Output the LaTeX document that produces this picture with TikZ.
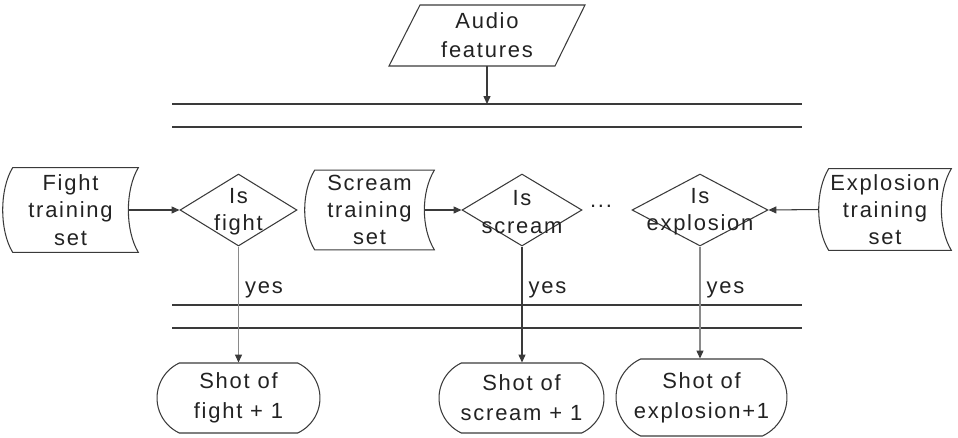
\documentclass[tikz,border=0pt]{standalone}
\usepackage{fontspec}
\setmainfont{Liberation Sans}[LetterSpace=8.0]
\usetikzlibrary{shapes.geometric,shapes.misc,arrows.meta}
\definecolor{lncol}{HTML}{3A3A3A}
\definecolor{lncolb}{HTML}{8A8A8A}
\definecolor{txtcol}{HTML}{222222}
\tikzset{
  x=0.02cm, y=-0.02cm,
  ln/.style={draw=lncol, line width=0.6pt},
  lnb/.style={draw=lncolb, line width=0.6pt},
  arr/.style={ln, -{Triangle[length=4.5pt,width=4pt]}},
  arrb/.style={lnb, -{Triangle[length=4.5pt,width=4pt,color=lncol]}},
  txt/.style={align=center, inner sep=0pt, font=\fontsize{12.5}{15.5}\selectfont, text=txtcol},
  sdbox/.style={txt},
  diam/.style={ln, diamond, inner sep=0pt},
  dtext/.style={txt},
  term/.style={ln, rounded rectangle, rounded rectangle arc length=130, inner sep=0pt,
    align=center, font=\fontsize{12.5}{17}\selectfont, text=txtcol},
  yeslab/.style={right, inner sep=3.5pt, font=\fontsize{12.5}{15}\selectfont, text=txtcol},
}
\newcommand\sdshape[1]{%
  \draw[ln] ([xshift=0.1cm]#1.north west) -- ([xshift=0.1cm]#1.north east)
    .. controls ([xshift=-0.166cm, yshift=-0.44cm]#1.north east) and ([xshift=-0.166cm, yshift=0.44cm]#1.south east)
    .. ([xshift=0.1cm]#1.south east) -- ([xshift=0.1cm]#1.south west)
    .. controls ([xshift=-0.166cm, yshift=0.44cm]#1.south west) and ([xshift=-0.166cm, yshift=-0.44cm]#1.north west)
    .. cycle;}
\begin{document}
\begin{tikzpicture}
\useasboundingbox (0,0) rectangle (958,437);

% Audio features
\node[txt, font=\fontsize{12.5}{16.5}\selectfont, minimum width=2.5cm, minimum height=1.22cm] (audio) at (487,35.5) {Audio\\features};
\draw[ln] ([shift={(-67,-30.5)}]audio.center) -- ([shift={(98,-30.5)}]audio.center)
  -- ([shift={(68,30.5)}]audio.center) -- ([shift={(-98,30.5)}]audio.center) -- cycle;
\coordinate (bus1) at (487,104);
\draw[arr] (audio.south) -- (bus1);

% double lines
\draw[ln] (172,104) -- (802,104);
\draw[ln] (172,127) -- (802,127);
\draw[ln] (172,305) -- (802,305);
\draw[ln] (172,328) -- (802,328);

% training sets
\node[sdbox, minimum width=2.5cm, minimum height=1.68cm] (fight) at (70.5,210) {Fight\\training\\set};
\sdshape{fight}
\node[sdbox, minimum width=2.38cm, minimum height=1.58cm] (scream) at (369.5,210) {Scream\\training\\set};
\sdshape{scream}
\node[sdbox, minimum width=2.44cm, minimum height=1.62cm] (expl) at (885,209.5) {Explosion\\training\\set};
\sdshape{expl}

% decisions
\node[diam, minimum width=2.34cm, minimum height=1.44cm, label={[dtext, yshift=-0.04cm]center:{Is\\fight}}] (d1) at (238.5,210) {};
\node[diam, minimum width=2.4cm, minimum height=1.44cm, label={[dtext, yshift=-0.04cm]center:{Is\\scream}}] (d2) at (522,210) {};
\node[diam, minimum width=2.72cm, minimum height=1.44cm, label={[dtext, yshift=-0.04cm]center:{Is\\explosion}}] (d3) at (700,210) {};
\node[txt] (dots) at (601,206) {...};

\draw[arr] ([xshift=-0.1cm]fight.east) -- (d1.west);
\draw[arr] ([xshift=-0.1cm]scream.east) -- (d2.west);
\draw[arr] ([xshift=-0.1cm]expl.west) -- (d3.east);

% terminals
\node[term, minimum width=3.26cm, minimum height=1.4cm] (t1) at (238.5,398) {Shot of\\fight + 1};
\node[term, minimum width=3.3cm, minimum height=1.4cm] (t2) at (521.5,398) {Shot of\\scream + 1};
\node[term, minimum width=3.42cm, minimum height=1.54cm] (t3) at (701.5,397.5) {Shot of\\explosion+1};

\draw[arrb] (d1.south) -- node[yeslab, pos=0.37] {yes} (t1.north);
\draw[arr] (d2.south) -- node[yeslab, pos=0.37] {yes} (d2.south |- t2.north);
\draw[arrb] (d3.south) -- node[yeslab, pos=0.39] {yes} (d3.south |- t3.north);
\end{tikzpicture}
\end{document}
